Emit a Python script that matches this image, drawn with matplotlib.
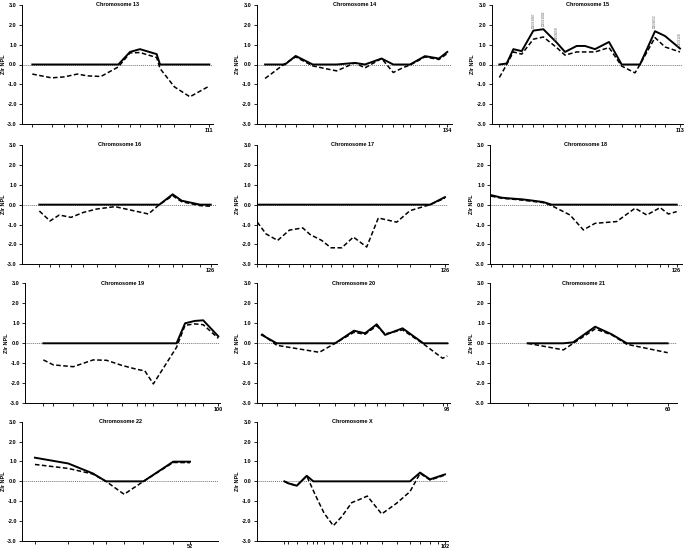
import matplotlib
matplotlib.use("Agg")
import matplotlib.pyplot as plt

plt.rcParams['font.family'] = ['Liberation Sans', 'DejaVu Sans']
plt.rcParams['font.weight'] = 'bold'

# ---------------- data (positions in cM, Zlr NPL values) ----------------
chr13_pos = [6.1, 17.6, 25.1, 32.8, 38.7, 46.8, 57.1, 64.0, 69.9, 79.8, 81.8, 90.3, 99.5, 111]
chr13_solid = [0, 0, 0, 0, 0, 0, 0, 0.63, 0.77, 0.52, 0, 0, 0, 0]
chr13_dashed = [-0.48, -0.67, -0.62, -0.48, -0.57, -0.60, -0.12, 0.58, 0.60, 0.35, -0.20, -1.12, -1.62, -1.08]

chr14_pos = [5.9, 13.4, 19.9, 27.4, 39.4, 49.2, 56.2, 69.1, 76.1, 87.8, 96.0, 103.1, 107.8, 118.3, 128.1, 134]
chr14_solid = [0, 0, 0, 0.43, 0, 0, 0, 0.08, 0, 0.30, 0, 0, 0, 0.42, 0.30, 0.63]
chr14_dashed = [-0.70, -0.30, 0.05, 0.38, -0.07, -0.22, -0.32, 0.08, -0.17, 0.30, -0.40, -0.15, -0.03, 0.38, 0.25, 0.55]

chr15_pos = [4.6, 9.0, 13.0, 18.0, 25.0, 31.0, 39.0, 44.0, 51.0, 56.0, 62.0, 70.4, 78.0, 86.0, 89.0, 98.0, 104.0, 113]
chr15_solid = [0, 0.05, 0.77, 0.67, 1.70, 1.77, 1.10, 0.63, 0.93, 0.93, 0.77, 1.13, 0, 0, 0, 1.67, 1.43, 0.80]
chr15_dashed = [-0.65, 0, 0.63, 0.52, 1.27, 1.38, 0.85, 0.47, 0.63, 0.63, 0.63, 0.85, -0.08, -0.42, 0, 1.35, 0.88, 0.63]
chr15_marker_pos = [25.0, 31.0, 39.0, 98.0, 113]
chr15_marker_val = [1.70, 1.77, 1.10, 1.67, 0.80]
chr15_marker_names = ['D15S1007', 'D15S1002', 'D15S659', 'D15S652', 'D15S120']

chr16_pos = [11.6, 18.7, 24.9, 32.7, 41.0, 49.9, 62.1, 84.4, 91.7, 100.6, 106.6, 118.9, 126]
chr16_solid = [0, 0, 0, 0, 0, 0, 0, 0, 0, 0.52, 0.20, 0, 0]
chr16_dashed = [-0.32, -0.82, -0.52, -0.64, -0.39, -0.22, -0.10, -0.47, 0, 0.45, 0.15, -0.05, -0.08]

chr17_pos = [0.4, 6.2, 14.0, 21.9, 30.8, 35.7, 43.5, 49.7, 56.9, 64.7, 73.6, 81.4, 93.7, 102.6, 116.0, 126]
chr17_solid = [0, 0, 0, 0, 0, 0, 0, 0, 0, 0, 0, 0, 0, 0, 0, 0.38]
chr17_dashed = [-0.88, -1.47, -1.80, -1.28, -1.17, -1.50, -1.80, -2.17, -2.17, -1.63, -2.13, -0.67, -0.88, -0.30, 0, 0.33]

chr18_pos = [0.7, 7.9, 15.8, 21.4, 27.0, 36.0, 41.6, 54.0, 63.0, 70.9, 85.5, 97.9, 105.8, 114.8, 120.4, 126]
chr18_solid = [0.48, 0.35, 0.30, 0.27, 0.22, 0.13, 0, 0, 0, 0, 0, 0, 0, 0, 0, 0]
chr18_dashed = [0.43, 0.32, 0.27, 0.23, 0.18, 0.10, -0.05, -0.52, -1.27, -0.94, -0.85, -0.18, -0.52, -0.15, -0.47, -0.35]

chr19_pos = [9.5, 14.7, 25.0, 35.3, 42.2, 50.0, 57.8, 62.0, 66.4, 78.4, 82.8, 87.9, 92.2, 100]
chr19_solid = [0, 0, 0, 0, 0, 0, 0, 0, 0, 0, 1.00, 1.12, 1.15, 0.35]
chr19_dashed = [-0.83, -1.08, -1.17, -0.83, -0.85, -1.10, -1.30, -1.38, -2.03, -0.20, 0.90, 0.97, 0.93, 0.25]

chr20_pos = [2.6, 10.3, 19.7, 32.2, 40.3, 50.0, 55.7, 61.7, 66.0, 75.0, 85.7, 95.6, 98]
chr20_solid = [0.42, 0, 0, 0, 0, 0.63, 0.50, 0.95, 0.42, 0.75, 0, 0, 0]
chr20_dashed = [0.47, -0.10, -0.25, -0.45, 0, 0.55, 0.45, 0.87, 0.47, 0.67, -0.03, -0.75, -0.63]

chr21_pos = [12.7, 24.8, 28.1, 35.5, 41.1, 46.2, 60]
chr21_solid = [0, 0, 0.05, 0.83, 0.45, 0, 0]
chr21_dashed = [0, -0.33, 0, 0.72, 0.42, -0.05, -0.47]

chr22_pos = [4.0, 14.3, 21.9, 26.0, 31.6, 37.6, 46.8, 52]
chr22_solid = [1.19, 0.90, 0.40, 0, 0, 0, 0.99, 0.99]
chr22_dashed = [0.85, 0.65, 0.37, 0, -0.65, 0, 0.95, 0.94]

chrX_pos = [15.0, 17.2, 21.7, 27.1, 30.7, 32.9, 36.5, 41.5, 46.0, 51.5, 56.0, 59.9, 67.7, 75.8, 83.0, 88.5, 93.9, 98.4, 102]
chrX_solid = [0, -0.10, -0.22, 0.28, 0, 0, 0, 0, 0, 0, 0, 0, 0, 0, 0, 0.44, 0.10, 0.24, 0.35]
chrX_dashed = [0, -0.10, -0.22, 0.27, -0.47, -0.91, -1.60, -2.23, -1.78, -1.07, -0.90, -0.74, -1.64, -1.10, -0.52, 0.40, 0.07, 0.20, 0.32]

chrom_names = ['13', '14', '15', '16', '17', '18', '19', '20', '21', '22', 'X']
chrom_lengths = [111, 134, 113, 126, 126, 126, 100, 98, 60, 52, 102]
y_ticks = [3.0, 2.0, 1.0, 0.0, -1.0, -2.0, -3.0]

series = {
    '13': (chr13_pos, chr13_solid, chr13_dashed),
    '14': (chr14_pos, chr14_solid, chr14_dashed),
    '15': (chr15_pos, chr15_solid, chr15_dashed),
    '16': (chr16_pos, chr16_solid, chr16_dashed),
    '17': (chr17_pos, chr17_solid, chr17_dashed),
    '18': (chr18_pos, chr18_solid, chr18_dashed),
    '19': (chr19_pos, chr19_solid, chr19_dashed),
    '20': (chr20_pos, chr20_solid, chr20_dashed),
    '21': (chr21_pos, chr21_solid, chr21_dashed),
    '22': (chr22_pos, chr22_solid, chr22_dashed),
    'X': (chrX_pos, chrX_solid, chrX_dashed),
}

# ---------------- layout (pixels) ----------------
W, H = 685, 549
layout = {
    '13': (22.0, 213.3, 4.7, 124.3),
    '14': (256.7, 451.7, 4.7, 124.3),
    '15': (491.7, 683.0, 4.7, 124.3),
    '16': (22.0, 216.7, 145.0, 264.3),
    '17': (256.7, 448.3, 145.0, 264.3),
    '18': (490.0, 681.7, 145.0, 264.3),
    '19': (25.0, 220.0, 283.3, 403.3),
    '20': (256.7, 450.0, 283.3, 403.3),
    '21': (490.0, 676.7, 283.3, 403.3),
    '22': (22.0, 218.3, 421.7, 541.0),
    'X': (256.7, 448.3, 421.7, 541.0),
}
last_tick_px = {'13': 209.3, '14': 447.3, '15': 680.0, '16': 210.7, '17': 445.0,
                '18': 676.7, '19': 218.3, '20': 447.3, '21': 667.7, '22': 190.0, 'X': 445.0}

fig = plt.figure(figsize=(W / 100, H / 100), dpi=100)
fs = 4

for name, L in zip(chrom_names, chrom_lengths):
    l, r, t, b = layout[name]
    ax = fig.add_axes([l / W, 1 - b / H, (r - l) / W, (b - t) / H])
    pos, solid, dashed = series[name]
    xmax = L * (r - l) / (last_tick_px[name] - l)
    ax.set_xlim(0, xmax)
    ax.set_ylim(-3, 3)
    ax.axhline(0, color='#777777', lw=0.7, ls=(0, (1, 1)), zorder=1)
    ax.plot(pos, dashed, color='black', lw=1.1, ls=(0, (3, 1.6)), zorder=2)
    ax.plot(pos, solid, color='black', lw=1.4, zorder=3)
    for s in ['top', 'right']:
        ax.spines[s].set_visible(False)
    for s in ['left', 'bottom']:
        ax.spines[s].set_linewidth(0.7)
    ax.set_yticks(y_ticks)
    ax.set_yticklabels([f"{v:.1f}" for v in y_ticks], fontsize=fs, fontweight='bold')
    ax.set_xticks(pos)
    ax.set_xticklabels(['' for _ in pos[:-1]] + [str(L)], fontsize=fs, fontweight='bold')
    ax.tick_params(axis='both', direction='out', length=2.2, width=0.6)
    ax.tick_params(axis='y', pad=1.5)
    ax.tick_params(axis='x', pad=0.2)
    ax.set_ylabel('Zlr NPL', fontsize=fs, fontweight='bold', labelpad=1.2)
    ax.text(0.5, 1.0, f'Chromosome {name}', transform=ax.transAxes, ha='center',
            va='center', fontsize=fs, fontweight='bold')
    if name == '15':
        for mp, mv, mn in zip(chr15_marker_pos, chr15_marker_val, chr15_marker_names):
            ax.text(mp, mv + 0.15, mn, rotation=90, ha='center', va='bottom',
                    fontsize=2.3, color='#555555', fontweight='normal')

fig.savefig('out.png', dpi=100)
